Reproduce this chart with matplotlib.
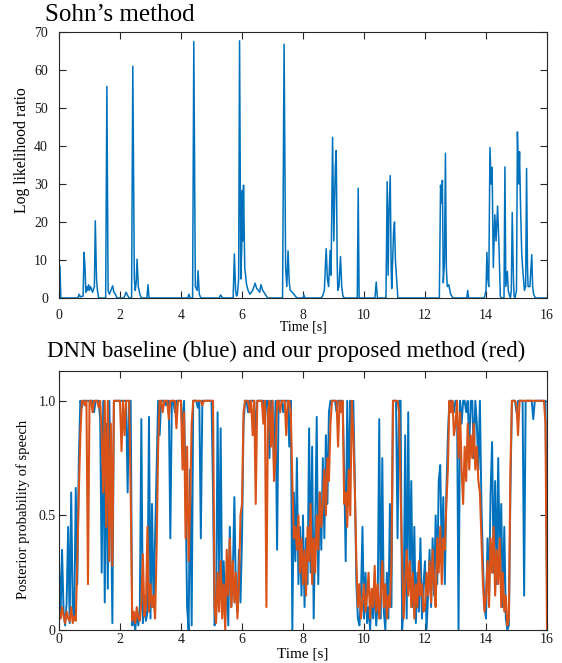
import numpy as np
import matplotlib
matplotlib.use("Agg")
import matplotlib.pyplot as plt

plt.rcParams['font.family'] = ['Liberation Serif', 'DejaVu Serif']

# ---------------- data: Sohn's method (log likelihood ratio) ----------------
sohn_time = [0.0, 0.03, 0.06,
             0.62, 0.66, 0.70, 0.79, 0.82, 0.85, 0.88, 0.91, 0.94, 0.97, 1.0, 1.03, 1.06, 1.1, 1.16, 1.19, 1.23, 1.26, 1.3,
             1.53, 1.57, 1.61, 1.65, 1.70, 1.76, 1.8, 1.85, 1.9,
             2.13, 2.2, 2.26, 2.3, 2.38, 2.42, 2.47, 2.5, 2.53, 2.56, 2.6, 2.65, 2.7,
             2.88, 2.92, 2.95,
             4.22, 4.26, 4.3, 4.38, 4.42, 4.47, 4.53, 4.56, 4.6, 4.65,
             5.25, 5.3, 5.36,
             5.71, 5.75, 5.79, 5.82, 5.85, 5.89, 5.92, 5.96, 5.99, 6.01, 6.03, 6.05, 6.09, 6.15, 6.2, 6.26, 6.35, 6.43,
             6.48, 6.54, 6.58, 6.62, 6.68, 6.76, 6.84,
             7.33, 7.38, 7.43, 7.47, 7.51, 7.55, 7.58, 7.65, 7.72, 7.8,
             8.0, 8.03, 8.06,
             8.6, 8.64, 8.7, 8.76, 8.8, 8.84, 8.89, 8.92, 8.97, 9.01, 9.06, 9.09, 9.12, 9.14, 9.18, 9.23, 9.27, 9.31, 9.35,
             9.78, 9.81, 9.84,
             10.36, 10.4, 10.44,
             10.72, 10.76, 10.79, 10.82, 10.86, 10.89, 10.91, 10.97, 11.0, 11.03, 11.07, 11.11,
             12.47, 12.51, 12.54, 12.57, 12.6, 12.64, 12.67, 12.7, 12.73, 12.78, 12.84, 12.92,
             13.37, 13.4, 13.43,
             13.93, 13.96, 14.0, 14.03, 14.06, 14.09, 14.13, 14.17, 14.2, 14.24, 14.29, 14.33, 14.38, 14.42, 14.47, 14.5,
             14.59, 14.62, 14.65, 14.7, 14.73, 14.76, 14.8, 14.83, 14.86, 14.9, 14.92, 14.95,
             15.0, 15.03, 15.07, 15.1, 15.13, 15.17, 15.2, 15.26, 15.3, 15.33, 15.36, 15.38, 15.44, 15.5, 15.53, 15.56, 15.62,
             16.0]
sohn_llr = [0, 8.5, 0,
            0, 1, 0.3, 0.5, 12, 8.5, 1.5, 3, 2, 3.5, 2, 3, 2.5, 1.5, 3, 20.3, 5, 2, 0,
            0, 55.7, 2, 1, 2, 3.2, 1.5, 1, 0,
            0, 1.5, 0.5, 0, 0, 61, 5, 2, 4, 10.2, 3, 1, 0,
            0, 3.5, 0,
            0, 1, 0, 0, 67.5, 3, 2, 7.2, 1, 0,
            0, 0.8, 0,
            0, 11.6, 2, 0.5, 1, 5, 67.7, 5, 12.7, 28.3, 15, 29.7, 8, 3.5, 2, 1, 2, 3.9,
            2.5, 2, 1.5, 3.5, 2, 1, 0,
            0, 66.8, 8, 3, 12.4, 4, 2, 1.5, 0.8, 0,
            0, 0.8, 0,
            0, 0.5, 2, 13, 5, 3, 12.5, 6, 42.3, 15, 34.6, 38.8, 10, 2, 3, 10.9, 3, 0.5, 0,
            0, 28.9, 0,
            0, 4.2, 0,
            0, 30.6, 6, 23, 32.2, 8, 2.5, 17.5, 20, 10, 5, 0,
            0, 29.7, 25, 31, 4, 10, 38.1, 8, 3, 3.5, 1, 0,
            0, 2, 0,
            0, 0.5, 2, 12, 5, 3, 39.6, 30, 34.4, 8, 21.9, 15, 24.2, 15, 0.5, 0,
            0, 34.5, 3, 7, 2, 1, 0, 2, 22.5, 5, 0.5, 0,
            2, 43.7, 30, 38.5, 25, 12, 8, 2, 3, 34.1, 8, 3, 3, 11.4, 3, 1, 0,
            0]

# ---------------- data: posterior probability of speech (in %) ----------------
# one value every 50 ms from 0 s to 16 s
dnn_blue_pct = [
    30, 5, 35, 8, 2, 12, 45, 3, 60, 10, 5, 62, 20, 75, 100, 97, 100, 100, 100, 100,
    100, 100, 100, 95, 100, 100, 100, 92, 25, 100, 12, 90, 18, 100, 60, 3, 100, 100, 100, 100,
    100, 100, 100, 100, 100, 60, 100, 100, 2, 5, 0, 8, 2, 10, 92, 3, 15, 4, 8, 93,
    5, 55, 10, 40, 70, 100, 85, 100, 100, 100, 98, 100, 100, 40, 100, 100, 95, 100, 100, 100,
    100, 85, 100, 60, 10, 0, 70, 2, 100, 100, 100, 97, 100, 40, 100, 100, 100, 100, 100, 100,
    100, 60, 2, 5, 95, 20, 88, 10, 30, 5, 25, 2, 45, 10, 25, 58, 15, 8, 35, 12,
    40, 90, 100, 100, 95, 100, 100, 100, 100, 85, 100, 100, 100, 100, 100, 90, 100, 100, 75, 100,
    100, 70, 100, 35, 100, 100, 100, 95, 100, 100, 100, 80, 100, 0, 60, 30, 75, 20, 45, 15,
    50, 10, 40, 20, 88, 25, 80, 5, 45, 93, 20, 60, 35, 75, 40, 85, 55, 95, 100, 100,
    100, 100, 95, 100, 100, 100, 100, 70, 30, 100, 60, 100, 90, 100, 65, 20, 5, 2, 15, 45,
    5, 25, 3, 10, 0, 15, 5, 20, 2, 12, 92, 5, 75, 8, 0, 25, 5, 55, 10, 100,
    100, 100, 40, 100, 100, 0, 10, 85, 5, 95, 20, 65, 10, 45, 3, 25, 8, 40, 5, 20,
    30, 0, 15, 35, 10, 40, 15, 50, 20, 65, 72, 30, 58, 20, 60, 85, 100, 100, 100, 95,
    100, 100, 0, 100, 90, 100, 100, 95, 100, 80, 100, 100, 75, 100, 90, 70, 100, 55, 30, 10,
    5, 40, 15, 60, 82, 25, 65, 20, 75, 30, 55, 10, 45, 5, 0, 2, 60, 100, 100, 100,
    95, 100, 100, 100, 100, 15, 100, 100, 100, 100, 100, 92, 100, 100, 100, 100, 100, 100, 100, 100,
    20]
proposed_red_pct = [
    8, 5, 10, 6, 3, 8, 5, 4, 10, 3, 6, 4, 30, 60, 85, 100, 100, 98, 100, 20,
    100, 100, 95, 100, 100, 100, 97, 100, 85, 60, 100, 45, 100, 30, 90, 28, 100, 100, 100, 100,
    100, 78, 100, 85, 100, 100, 100, 60, 4, 8, 3, 10, 5, 4, 12, 33, 6, 10, 45, 8,
    20, 10, 15, 5, 35, 80, 100, 100, 95, 100, 100, 100, 92, 100, 100, 100, 100, 88, 100, 100,
    100, 70, 95, 40, 80, 30, 55, 90, 100, 100, 100, 100, 100, 100, 98, 100, 100, 100, 100, 100,
    100, 100, 10, 3, 25, 8, 30, 5, 20, 0, 35, 15, 40, 10, 30, 12, 25, 5, 20, 50,
    55, 95, 100, 100, 100, 95, 100, 85, 100, 55, 100, 100, 100, 100, 90, 100, 10, 95, 100, 80,
    100, 65, 75, 100, 100, 95, 100, 100, 100, 85, 100, 100, 95, 65, 40, 45, 35, 50, 25, 40,
    20, 35, 15, 45, 30, 55, 20, 40, 25, 50, 35, 60, 45, 55, 70, 50, 75, 65, 90, 100,
    100, 100, 100, 80, 100, 95, 100, 55, 60, 45, 70, 50, 100, 85, 60, 30, 10, 20, 5, 12,
    20, 8, 15, 25, 5, 18, 10, 28, 8, 20, 5, 15, 30, 10, 20, 5, 15, 10, 30, 100,
    100, 100, 100, 95, 60, 30, 5, 20, 35, 15, 30, 10, 25, 5, 20, 10, 30, 15, 20, 8,
    10, 25, 15, 30, 12, 35, 20, 10, 40, 25, 45, 20, 40, 35, 55, 70, 100, 95, 100, 85,
    90, 100, 75, 95, 70, 55, 80, 65, 90, 70, 85, 75, 90, 70, 80, 65, 60, 40, 20, 8,
    15, 30, 10, 40, 25, 45, 15, 35, 20, 40, 10, 25, 8, 15, 2, 5, 70, 100, 100, 100,
    98, 85, 100, 100, 100, 100, 100, 100, 100, 100, 100, 100, 100, 100, 100, 100, 100, 100, 100, 90,
    0]

x_ticks = [0, 2, 4, 6, 8, 10, 12, 14, 16]
x_ticklabels = ['0', '2', '4', '6', '8', '10', '12', '14', '16']
top_yticks = [0, 10, 20, 30, 40, 50, 60, 70]
top_yticklabels = ['0', '10', '20', '30', '40', '50', '60', '70']
bot_yticks = [0, 0.5, 1.0]
bot_yticklabels = ['0', '0.5', '1.0']

BLUE = '#0072BD'
RED = '#D95319'
AX = '#262626'

W, H = 562, 663
fig = plt.figure(figsize=(W / 100, H / 100), dpi=100)

def frac_box(l, t, r, b):
    return [l / W, 1 - b / H, (r - l) / W, (b - t) / H]

def style(ax, pad):
    for s in ax.spines.values():
        s.set_color(AX)
        s.set_linewidth(0.8)
    ax.tick_params(direction='in', top=True, right=True, length=5, width=0.8,
                   color=AX, labelcolor='#1a1a1a', labelsize=10, pad=pad)

# ---- top panel ----
ax1 = fig.add_axes(frac_box(59, 32, 547, 298))
ax1.plot(sohn_time, sohn_llr, color=BLUE, lw=1.1)
ax1.set_xlim(0, 16)
ax1.set_ylim(0, 70)
ax1.set_xticks(x_ticks, x_ticklabels)
ax1.set_yticks(top_yticks, top_yticklabels)
style(ax1, 8)
ax1.set_xlabel('Time [s]', fontsize=10, labelpad=0)
ax1.xaxis.set_label_coords(0.5, -0.085)
ax1.set_ylabel('Log likelihood ratio', fontsize=11.3)
ax1.yaxis.set_label_coords(-0.060, 0.556)

# ---- bottom panel ----
t_frames = np.linspace(0, 16, len(dnn_blue_pct))
ax2 = fig.add_axes(frac_box(59, 371, 547, 630))
ax2.plot(t_frames, np.array(dnn_blue_pct) / 100, color=BLUE, lw=1.4)
ax2.plot(t_frames, np.array(proposed_red_pct) / 100, color=RED, lw=1.5)
ax2.set_xlim(0, 16)
ax2.set_ylim(0, 1.13)
ax2.set_xticks(x_ticks, x_ticklabels)
ax2.set_yticks(bot_yticks, bot_yticklabels)
style(ax2, 2.5)
ax2.set_xlabel('Time [s]', fontsize=11, labelpad=0)
ax2.xaxis.set_label_coords(0.5, -0.066)
ax2.set_ylabel('Posterior probability of speech', fontsize=10.5)
ax2.yaxis.set_label_coords(-0.060, 0.467)

# ---- titles ----
fig.text(45 / W, 1 - 21 / H, 'Sohn\u2019s method', fontsize=18, va='baseline', ha='left')
fig.text(47 / W, 1 - 357 / H, 'DNN baseline (blue) and our proposed method (red)',
         fontsize=16.4, va='baseline', ha='left')

fig.savefig('out.png', dpi=100)
